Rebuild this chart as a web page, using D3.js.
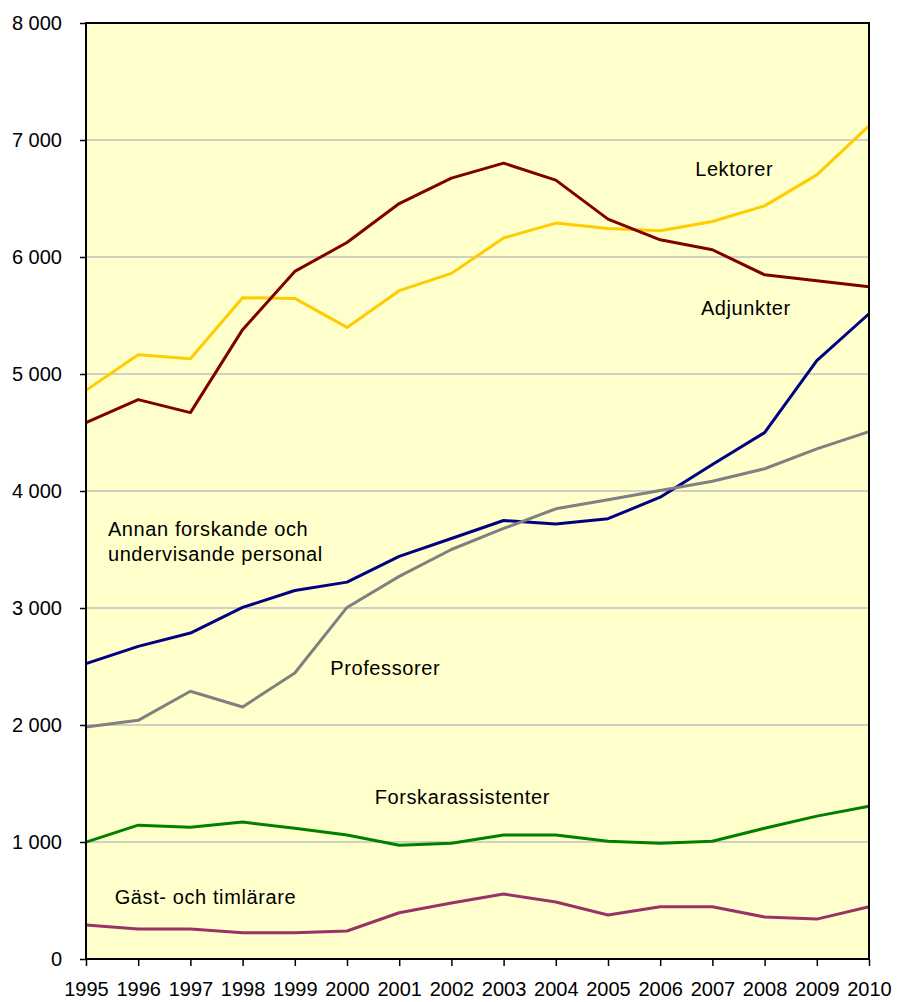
<!DOCTYPE html>
<html>
<head>
<meta charset="utf-8">
<script src="https://cdn.jsdelivr.net/npm/d3@7"></script>
<style>
  html, body { margin: 0; padding: 0; background: #fff; overflow: hidden; }
  svg { display: block; }
  svg text { font-family: "Liberation Sans", Arial, sans-serif; fill: #000; }
</style>
</head>
<body>
<svg id="chart"></svg>
<script>
const width = 897;
const height = 1002;

// Data
const years = d3.range(1995, 2011);
const yTicks = [0, 1000, 2000, 3000, 4000, 5000, 6000, 7000, 8000];

const lektorer = [4860, 5165, 5131, 5652, 5646, 5398, 5712, 5860, 6162, 6290, 6244, 6224, 6303, 6437, 6702, 7120];
const adjunkter = [4585, 4781, 4670, 5379, 5877, 6124, 6457, 6674, 6802, 6657, 6324, 6147, 6062, 5848, 5797, 5746];
const annan = [2525, 2672, 2786, 3005, 3150, 3221, 3441, 3594, 3748, 3717, 3763, 3947, 4226, 4499, 5114, 5515];
const professorer = [1983, 2040, 2288, 2154, 2444, 3005, 3270, 3500, 3680, 3848, 3925, 4004, 4084, 4190, 4360, 4508];
const forskarass = [999, 1144, 1127, 1170, 1118, 1059, 973, 990, 1059, 1059, 1007, 990, 1007, 1118, 1221, 1306];
const gast = [290, 256, 256, 225, 225, 239, 395, 478, 555, 487, 376, 447, 447, 359, 341, 447];

const series = [
  { name: "Lektorer", values: lektorer, color: "#FFCC00" },
  { name: "Adjunkter", values: adjunkter, color: "#800000" },
  { name: "Annan", values: annan, color: "#000080" },
  { name: "Professorer", values: professorer, color: "#808080" },
  { name: "Forskarassistenter", values: forskarass, color: "#008000" },
  { name: "Gäst", values: gast, color: "#993366" }
];

// line labels placed in the plot
const labels = [
  { lines: ["Lektorer"], year: 2006.67, value: 6690 },
  { lines: ["Adjunkter"], year: 2006.78, value: 5505 },
  { lines: ["Annan forskande och", "undervisande personal"], year: 1995.42, value: 3615 },
  { lines: ["Professorer"], year: 1999.68, value: 2425 },
  { lines: ["Forskarassistenter"], year: 2000.53, value: 1325 },
  { lines: ["Gäst- och timlärare"], year: 1995.55, value: 470 }
];

const margin = { top: 23, right: 28, bottom: 43, left: 86 };
const innerWidth = width - margin.left - margin.right;
const innerHeight = height - margin.top - margin.bottom;

const svg = d3.select("#chart")
  .attr("width", width)
  .attr("height", height);

const x = d3.scaleLinear().domain([1995, 2010]).range([0, innerWidth]);
const y = d3.scaleLinear().domain([0, 8000]).range([innerHeight, 0]);

const fmt = d3.formatLocale({ decimal: ",", thousands: " ", grouping: [3], currency: ["", ""] }).format(",d");

const g = svg.append("g")
  .attr("transform", `translate(${margin.left},${margin.top})`);

// plot background
g.append("rect")
  .attr("width", innerWidth)
  .attr("height", innerHeight)
  .attr("fill", "#FFFFCC");

// gridlines
g.selectAll(".grid")
  .data(yTicks.slice(1, -1))
  .enter()
  .append("line")
  .attr("x1", 0)
  .attr("x2", innerWidth)
  .attr("y1", d => y(d))
  .attr("y2", d => y(d))
  .attr("stroke", "#C0C0C0")
  .attr("stroke-width", 1.5);

// Y axis
const yAxisG = g.append("g")
  .call(d3.axisLeft(y).tickValues(yTicks).tickFormat(fmt).tickSizeInner(6).tickSizeOuter(0).tickPadding(18));
yAxisG.select(".domain").remove();
yAxisG.selectAll("line").attr("stroke", "#000").attr("stroke-width", 1.5);
yAxisG.selectAll("text").attr("font-size", 20).attr("font-family", null);

// X axis
const xAxisG = g.append("g")
  .attr("transform", `translate(0,${innerHeight})`)
  .call(d3.axisBottom(x).tickValues(years).tickFormat(d3.format("d")).tickSizeInner(7).tickSizeOuter(0).tickPadding(16));
xAxisG.select(".domain").remove();
xAxisG.selectAll("line").attr("stroke", "#000").attr("stroke-width", 1.5);
xAxisG.selectAll("text").attr("font-size", 20).attr("font-family", null);

// lines
const line = d3.line()
  .x((d, i) => x(years[i]))
  .y(d => y(d));

g.selectAll(".series")
  .data(series)
  .enter()
  .append("path")
  .attr("fill", "none")
  .attr("stroke", d => d.color)
  .attr("stroke-width", 3)
  .attr("stroke-linejoin", "round")
  .attr("d", d => line(d.values));

// plot border
g.append("rect")
  .attr("width", innerWidth)
  .attr("height", innerHeight)
  .attr("fill", "none")
  .attr("stroke", "#000")
  .attr("stroke-width", 2);

// labels
labels.forEach(l => {
  const t = g.append("text")
    .attr("x", x(l.year))
    .attr("y", y(l.value))
    .attr("font-size", 20)
    .attr("letter-spacing", 0.6);
  l.lines.forEach((s, i) => {
    t.append("tspan")
      .attr("x", x(l.year))
      .attr("dy", i === 0 ? 0 : 25)
      .text(s);
  });
});
</script>
</body>
</html>
